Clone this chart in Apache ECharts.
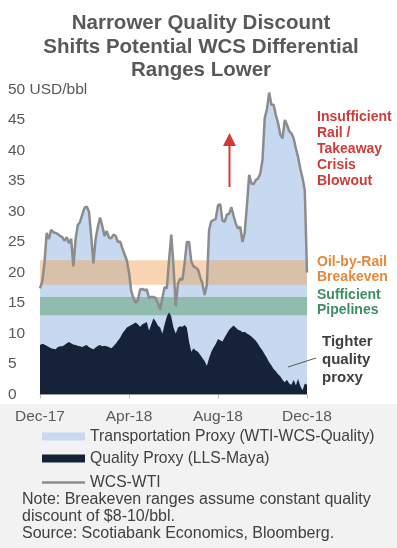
<!DOCTYPE html>
<html>
<head>
<meta charset="UTF-8">
<title>WCS Differential Ranges</title>
<script src="https://cdn.jsdelivr.net/npm/echarts@6/dist/echarts.min.js"></script>
<style>
  html, body { margin: 0; padding: 0; background: #fff; }
  #main { width: 397px; height: 548px; }
</style>
</head>
<body>
<div id="main"></div>
<script type="text/javascript">
  // tick labels on x axis (Dec-17 .. Dec-18, 4 months apart)
  var xLabels = ['Dec-17', 'Apr-18', 'Aug-18', 'Dec-18'];
  var labelStep = 40; // points between two tick labels

  // WCS-WTI differential, USD/bbl (about every 3 days)
  var wcsWti = [
    17.4, 18.5, 21.5, 26.5, 25.5, 27.0, 26.6, 26.5, 26.3, 26.0,
    25.8, 25.2, 25.8, 24.8, 25.5, 21.0, 25.5, 27.8, 28.3, 29.5,
    30.6, 30.8, 30.0, 26.0, 21.5, 25.5, 27.5, 29.0, 27.6, 26.0,
    26.8, 25.7, 25.6, 26.2, 26.0, 25.0, 25.1, 24.0, 23.0, 22.0,
    20.0, 17.0, 15.8, 15.0, 15.5, 17.2, 17.3, 17.1, 17.2, 15.8,
    16.0, 16.0, 15.8, 15.0, 13.9, 15.8, 17.6, 17.4, 22.0, 26.2,
    21.0, 14.5, 18.2, 19.0, 18.8, 21.5, 25.0, 25.0, 21.8, 21.0,
    20.8, 20.5, 19.2, 18.2, 16.3, 18.0, 27.0, 28.4, 28.6, 28.8,
    31.0, 31.2, 28.5, 28.3, 29.5, 29.6, 30.7, 29.3, 28.0, 27.2,
    27.5, 25.0, 26.5, 31.0, 36.0, 34.6, 34.5, 35.2, 35.4, 36.2,
    38.5, 45.3, 46.8, 49.5, 47.5, 47.5, 45.8, 44.5, 42.6, 42.0,
    45.0, 44.2, 43.2, 42.8, 42.0, 40.3, 38.9, 37.0, 35.5, 33.5,
    20.0
  ];

  // Quality proxy (LLS-Maya), USD/bbl
  var quality = [
    8.1, 8.3, 8.2, 8.0, 7.8, 7.6, 7.5, 7.4, 7.8, 7.9,
    7.9, 8.1, 8.4, 8.6, 8.4, 8.2, 8.1, 8.0, 7.9, 7.8,
    8.0, 8.1, 7.8, 7.6, 7.4, 7.7, 8.0, 8.1, 7.9, 8.0,
    7.9, 7.8, 7.6, 7.9, 8.3, 8.8, 9.3, 10.0, 10.5, 11.0,
    11.2, 11.4, 11.6, 11.8, 11.5, 11.1, 11.5, 11.7, 11.9, 10.5,
    11.5, 12.5, 12.0, 11.3, 11.0, 10.0, 11.5, 12.8, 13.5, 12.8,
    11.0, 10.0, 11.0, 11.2, 11.1, 11.4, 11.0, 8.7, 7.0, 7.6,
    7.2, 7.0, 6.5, 6.0, 5.5, 4.7, 6.0, 7.0, 7.7, 8.3,
    9.1, 8.9, 8.7, 9.4, 10.0, 10.6, 11.0, 11.3, 11.0, 10.6,
    10.5, 10.2, 10.3, 10.0, 9.8, 9.5, 9.2, 8.8, 8.3, 7.7,
    7.2, 6.6, 6.0, 5.3, 4.8, 4.2, 3.8, 3.3, 3.0, 2.4,
    2.0, 2.4, 1.8, 1.6, 2.4, 1.5, 2.6, 1.4, 0.7, 1.8,
    1.6
  ];

  // breakeven ranges
  var railBand = [18, 22];
  var pipeBand = [13, 16];

  var font = 'Liberation Sans, Arial, sans-serif';
  var myChart = echarts.init(document.getElementById('main'));

  // category per data point, label only every labelStep points
  var cats = [];
  var transport = [];
  for (var i = 0; i < wcsWti.length; i++) {
    cats.push(i % labelStep === 0 ? xLabels[i / labelStep] : '');
    transport.push(+(wcsWti[i] - quality[i]).toFixed(2));
  }
  var showTick = function (idx) { return idx % labelStep === 0; };

  var option = {
    animation: false,
    title: {
      text: 'Narrower Quality Discount\nShifts Potential WCS Differential\nRanges Lower',
      left: 201,
      top: 12,
      padding: 0,
      textAlign: 'center',
      textStyle: { fontFamily: font, fontSize: 20.5, fontWeight: 'bold', color: '#595959', lineHeight: 23.3 }
    },
    grid: { left: 40, right: 90, top: 89.5, bottom: 153.5 },
    legend: [
      {
        orient: 'vertical',
        left: 37,
        top: 423,
        itemWidth: 43,
        itemHeight: 8,
        itemGap: 5,
        icon: 'rect',
        textStyle: { fontFamily: font, fontSize: 15.7, color: '#404040', lineHeight: 17 },
        data: ['Transportation Proxy (WTI-WCS-Quality)', 'Quality Proxy (LLS-Maya)']
      },
      {
        orient: 'vertical',
        left: 37,
        top: 469,
        itemWidth: 43,
        itemHeight: 2.5,
        icon: 'rect',
        textStyle: { fontFamily: font, fontSize: 15.7, color: '#404040', lineHeight: 17 },
        data: ['WCS-WTI']
      }
    ],
    xAxis: {
      type: 'category',
      data: cats,
      boundaryGap: false,
      axisLine: { lineStyle: { color: '#bfbfbf', width: 1 } },
      axisTick: { length: 4, interval: showTick, lineStyle: { color: '#bfbfbf' } },
      axisLabel: {
        interval: showTick,
        margin: 14,
        color: '#595959',
        fontFamily: font,
        fontSize: 15.5
      }
    },
    yAxis: {
      type: 'value',
      min: 0,
      max: 50,
      interval: 5,
      splitLine: { show: false },
      axisLine: { show: false },
      axisTick: { show: false },
      axisLabel: {
        align: 'left',
        margin: 32,
        color: '#595959',
        fontFamily: font,
        fontSize: 15.5,
        formatter: function (v) { return v === 50 ? '50 USD/bbl' : v; }
      }
    },
    series: [
      {
        name: 'Quality Proxy (LLS-Maya)',
        type: 'line',
        stack: 'diff',
        z: 3,
        symbol: 'none',
        color: '#152238',
        itemStyle: { color: '#152238' },
        lineStyle: { width: 0 },
        areaStyle: { color: '#152238', opacity: 1 },
        data: quality
      },
      {
        name: 'Transportation Proxy (WTI-WCS-Quality)',
        type: 'line',
        stack: 'diff',
        z: 0,
        symbol: 'none',
        color: '#c6d9f0',
        itemStyle: { color: '#c6d9f0' },
        lineStyle: { width: 0 },
        areaStyle: { color: '#c6d9f0', opacity: 1 },
        data: transport
      },
      {
        name: 'WCS-WTI',
        type: 'line',
        z: 4,
        symbol: 'none',
        color: '#8c8c8c',
        itemStyle: { color: '#8c8c8c' },
        lineStyle: { width: 2.5, color: '#8c8c8c' },
        data: wcsWti,
        markArea: {
          silent: true,
          z: 1,
          label: { show: false },
          data: [
            [{ yAxis: railBand[0], itemStyle: { color: 'rgba(240,162,80,0.45)' } }, { yAxis: railBand[1] }],
            [{ yAxis: pipeBand[0], itemStyle: { color: 'rgba(99,164,117,0.55)' } }, { yAxis: pipeBand[1] }]
          ]
        }
      }
    ],
    graphic: [
      { type: 'rect', z: -10, shape: { x: 0, y: 404, width: 397, height: 144 }, style: { fill: '#f2f2f2' } },
      {
        type: 'text', x: 317, y: 108.7,
        style: { text: 'Insufficient\nRail /\nTakeaway\nCrisis\nBlowout', fontFamily: font, fontSize: 14, fontWeight: 'bold', lineHeight: 16, fill: '#d23a3a', verticalAlign: 'top' }
      },
      {
        type: 'text', x: 317, y: 254.2,
        style: { text: 'Oil-by-Rail\nBreakeven', fontFamily: font, fontSize: 14, fontWeight: 'bold', lineHeight: 15, fill: '#e8873a', verticalAlign: 'top' }
      },
      {
        type: 'text', x: 317, y: 287.8,
        style: { text: 'Sufficient\nPipelines', fontFamily: font, fontSize: 14, fontWeight: 'bold', lineHeight: 15, fill: '#3f8d64', verticalAlign: 'top' }
      },
      {
        type: 'text', x: 322, y: 333.3,
        style: { text: 'Tighter\nquality\nproxy', fontFamily: font, fontSize: 15, fontWeight: 'bold', lineHeight: 18, fill: '#404040', verticalAlign: 'top' }
      },
      { type: 'line', z: 10, shape: { x1: 288, y1: 367, x2: 316, y2: 358 }, style: { stroke: '#595959', lineWidth: 1 } },
      // red arrow
      { type: 'line', z: 10, shape: { x1: 229.5, y1: 187, x2: 229.5, y2: 144 }, style: { stroke: '#d23a3a', lineWidth: 2 } },
      { type: 'polygon', z: 10, shape: { points: [[223, 146], [236, 146], [229.5, 133]] }, style: { fill: '#d23a3a' } },
      {
        type: 'text', x: 22, y: 490.6,
        style: { text: 'Note: Breakeven ranges assume constant quality\ndiscount of $8-10/bbl.\nSource: Scotiabank Economics, Bloomberg.', fontFamily: font, fontSize: 16, lineHeight: 17, fill: '#404040', verticalAlign: 'top' }
      }
    ]
  };

  myChart.setOption(option);
</script>
</body>
</html>
